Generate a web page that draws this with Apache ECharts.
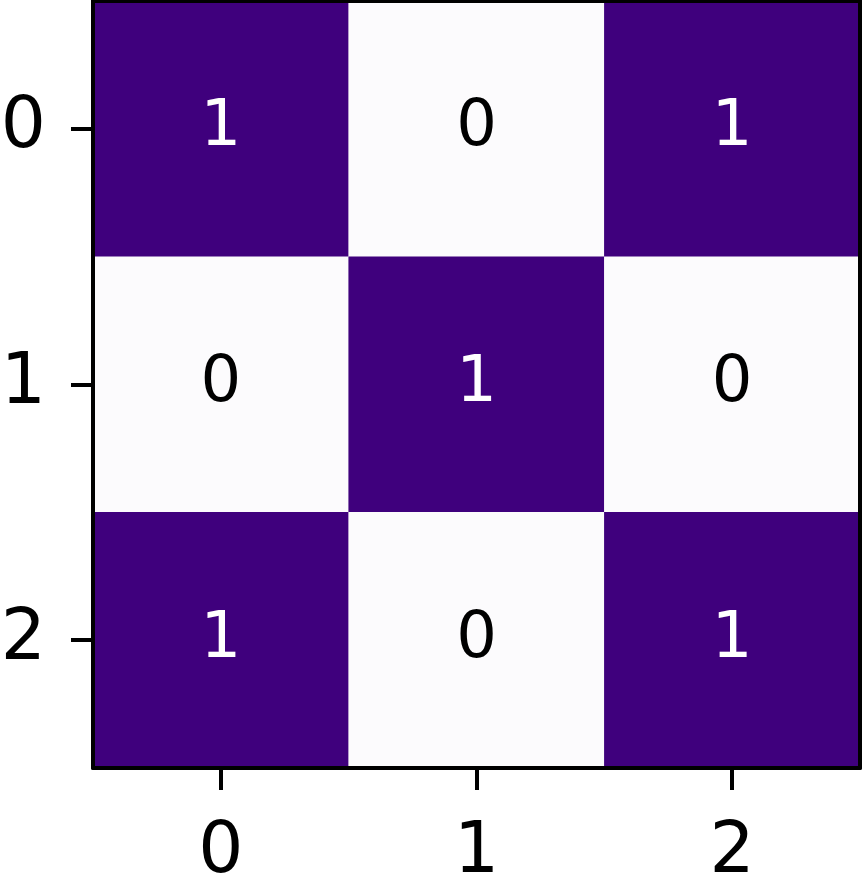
<!DOCTYPE html>
<html><head><meta charset="utf-8">
<script src="https://cdn.jsdelivr.net/npm/echarts@6/dist/echarts.min.js"></script>
<style>html,body{margin:0;padding:0;background:#fff}#c{width:862px;height:885px}</style>
</head><body><div id="c"></div>
<script>
const xLabels = ['0','1','2'];
const yLabels = ['0','1','2'];
const matrix = [
  [1,0,1],
  [0,1,0],
  [1,0,1]
];
const lowColor = '#fcfbfd', highColor = '#3f007d';
const data = [];
matrix.forEach((row, r) => row.forEach((v, c) => {
  data.push({value:[c, r, v], label:{color: v > 0.5 ? '#ffffff' : '#000000'}});
}));
const font = 'DejaVu Sans';
const chart = echarts.init(document.getElementById('c'));
const lineStyle = {color:'#000', width:4};
const tick = {show:true, length:22, alignWithLabel:true, lineStyle:{color:'#000',width:4}};
chart.setOption({
  animation:false,
  grid:{left:93, right:2, top:1, bottom:117, containLabel:false, outerBoundsMode:'none'},
  xAxis:[
    {type:'category', data:xLabels, z:5,
     axisLine:{show:true, lineStyle}, axisTick:tick,
     axisLabel:{fontFamily:font, fontSize:71, color:'#000', margin:50}, splitLine:{show:false}},
    {type:'category', data:xLabels, position:'top', z:5,
     axisLine:{show:true, lineStyle}, axisTick:{show:false}, axisLabel:{show:false}}
  ],
  yAxis:[
    {type:'category', data:yLabels, inverse:true, z:5,
     axisLine:{show:true, lineStyle}, axisTick:tick,
     axisLabel:{fontFamily:font, fontSize:71, color:'#000', margin:47, verticalAlign:'middle'}, splitLine:{show:false}},
    {type:'category', data:yLabels, inverse:true, position:'right', z:5,
     axisLine:{show:true, lineStyle}, axisTick:{show:false}, axisLabel:{show:false}}
  ],
  visualMap:{show:false, min:0, max:1, dimension:2, inRange:{color:[lowColor, highColor]}},
  series:[{
    type:'heatmap', data:data, z:1,
    label:{show:true, fontFamily:font, fontSize:64, formatter:p=>String(p.value[2])},
    itemStyle:{borderWidth:0}
  }]
});
</script></body></html>
